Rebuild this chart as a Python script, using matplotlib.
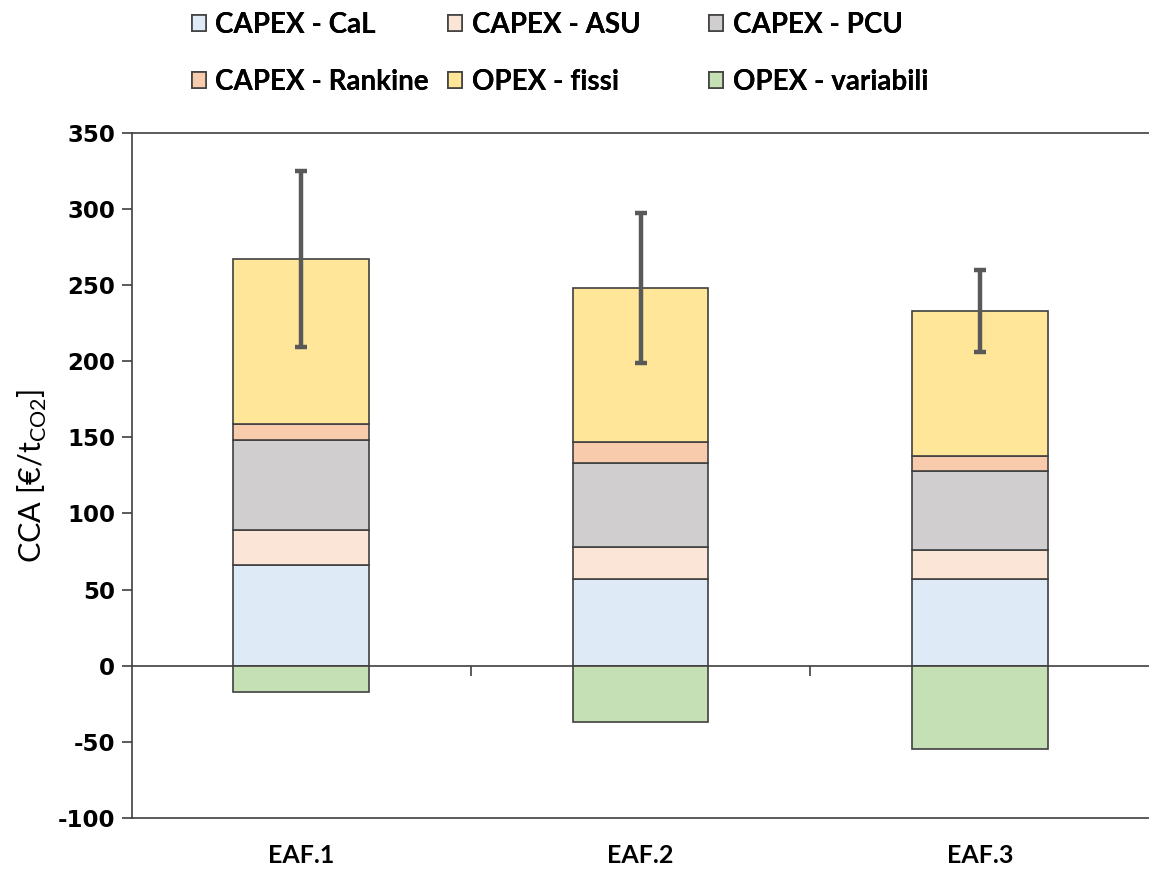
import matplotlib.pyplot as plt
import numpy as np

# Cost breakdown per plant configuration (€/tCO2)
plants = ["EAF.1", "EAF.2", "EAF.3"]
capex_cal = [66, 57, 57]
capex_asu = [23, 21, 19]
capex_pcu = [59, 55, 52]
capex_rankine = [11, 14, 10]
opex_fissi = [108, 101, 95]
opex_variabili = [-17, -37, -55]
error = [58, 49, 27]

series_names = ["CAPEX - CaL", "CAPEX - ASU", "CAPEX - PCU",
                "CAPEX - Rankine", "OPEX - fissi", "OPEX - variabili"]
colors = ["#DEEBF7", "#FBE5D6", "#D0CECE", "#F8CBAD", "#FFE699", "#C5E0B4"]

plt.rcParams['font.family'] = ['Lato', 'DejaVu Sans']
plt.rcParams['mathtext.fontset'] = 'custom'
plt.rcParams['mathtext.rm'] = 'Lato'
plt.rcParams['axes.unicode_minus'] = False

edge = '#404040'
fig = plt.figure(figsize=(11.49, 8.69), dpi=100)
ax = fig.add_axes([0.1145, 0.0587, 0.886, 0.7885])

x = np.arange(len(plants))
width = 0.40

positive = [capex_cal, capex_asu, capex_pcu, capex_rankine, opex_fissi]
bottom = np.zeros(len(plants))
handles = []
for vals, name, col in zip(positive, series_names[:5], colors[:5]):
    b = ax.bar(x, vals, width, bottom=bottom, color=col, edgecolor=edge,
               linewidth=1.2, label=name, zorder=2)
    handles.append(b)
    bottom += np.array(vals)
b = ax.bar(x, opex_variabili, width, color=colors[5], edgecolor=edge,
           linewidth=1.2, label=series_names[5], zorder=2)
handles.append(b)

# error bars on top of the positive stack
ax.errorbar(x, bottom, yerr=error, fmt='none', ecolor='#595959',
            elinewidth=3.2, capsize=4.5, capthick=3.2, zorder=3)

ax.set_xlim(-0.5, 2.5)
ax.set_ylim(-100, 350)
ax.set_yticks(np.arange(-100, 351, 50))
ax.tick_params(axis='y', direction='out', length=7, width=1.2, color=edge,
               labelsize=16.5, pad=5)
for lbl in ax.get_yticklabels():
    lbl.set_fontfamily('DejaVu Sans')
    lbl.set_fontweight('bold')

ax.set_xticks(x)
ax.set_xticklabels(plants, fontsize=18, fontweight='bold')
ax.tick_params(axis='x', length=0, pad=19)

for side in ['left', 'top', 'bottom']:
    ax.spines[side].set_color(edge)
    ax.spines[side].set_linewidth(1.2)
ax.spines['right'].set_visible(False)

# category axis crossing at zero, with ticks between the groups
zero_axis = ax.secondary_xaxis(0, transform=ax.transData)
zero_axis.set_xticks([0.5, 1.5])
zero_axis.set_xticklabels(['', ''])
zero_axis.tick_params(direction='out', length=7, width=1.2, color=edge)
zero_axis.spines['bottom'].set_color(edge)
zero_axis.spines['bottom'].set_linewidth(1.2)

ax.set_ylabel('CCA [€/t$_{\\mathrm{CO2}}$]', fontsize=22, labelpad=6)

# legend laid out as three columns of two rows
col_x = [0.167, 0.390, 0.617]
for j, cx in enumerate(col_x):
    idx = [j, j + 3]
    leg = fig.legend([handles[i] for i in idx], [series_names[i] for i in idx],
                     loc='upper left', bbox_to_anchor=(cx, 0.986),
                     frameon=False, prop={'weight': 'bold', 'size': 20},
                     handlelength=0.5, handleheight=0.5, handletextpad=0.35,
                     labelspacing=1.1, borderpad=0, borderaxespad=0)
    fig.add_artist(leg)

fig.savefig('out.png', dpi=100)
